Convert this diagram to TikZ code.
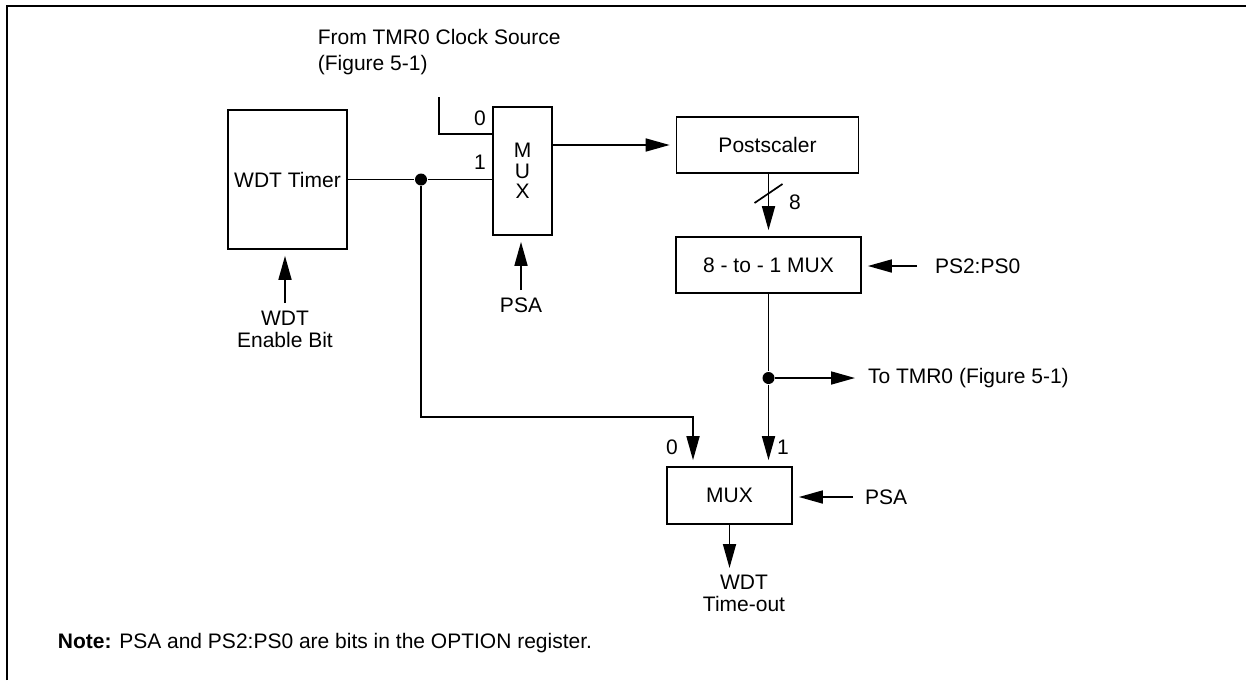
\documentclass[tikz,border=0pt]{standalone}
\usepackage{fontspec}
\setmainfont{Liberation Sans}
\usetikzlibrary{arrows.meta, positioning}

\begin{document}
\begin{tikzpicture}[x=0.5pt, y=-0.5pt, >={Triangle[length=12pt,width=6.5pt]}, line width=0.85pt,
    font=\fontsize{10.5}{11}\selectfont,
    block/.style={draw, inner sep=0pt, align=center},
    sig/.style={inner sep=0pt, outer sep=4pt},
    arr/.style={->, shorten >=3pt},
    dot/.style={circle, fill, inner sep=0pt, minimum size=6pt}]
      \useasboundingbox (0,0) rectangle (1246,680);
      \draw[line width=1.3pt] (7,680) |- (1246,6);

      % blocks
      \node[block, minimum width=59.5pt, minimum height=69.5pt] (wdt) at (287.5,179.5) {WDT Timer};
      \node[block, minimum width=29.5pt, minimum height=64pt, font=\fontsize{10.5}{10.3}\selectfont] (mux1) at (522.5,171) {M\\U\\X};
      \node[block, minimum width=91pt, minimum height=28pt] (post) at (767.5,145) {Postscaler};
      \node[block, minimum width=92.5pt, minimum height=28pt] (mux8) at (768.5,265) {8 - to - 1 MUX};
      \node[block, minimum width=62.5pt, minimum height=28.5pt] (mux2) at (729.5,495.5) {MUX};

      % signal names
      \node[inner sep=0pt, anchor=west, align=left, font=\fontsize{10.5}{13}\selectfont] (src) at (317,52) {From TMR0 Clock Source\\(Figure 5-1)};
      \node[sig, anchor=north, align=center] (en) at (285,303) {WDT\\Enable Bit};
      \node[sig, anchor=north] (psa1) at (521,290) {PSA};
      \node[sig, anchor=west, outer sep=9pt] (ps) at (917,266) {PS2:PS0};
      \node[sig, anchor=west, outer sep=3.5pt] (tmr) at (861,378) {To TMR0 (Figure 5-1)};
      \node[sig, anchor=west, outer sep=6pt] (psa2) at (853,497) {PSA};
      \node[sig, anchor=north, outer sep=3.5pt, align=center] (tout) at (744,568) {WDT\\Time-out};
      \node (sel0) at (480,118) {0};
      \node (sel1) at (480,162) {1};
      \node (sel0b) at (672,447) {0};
      \node (sel1b) at (783,447) {1};
      \node (bw) at (795,202) {8};
      \node[inner sep=0pt, anchor=west] (note) at (57,643) {\textbf{Note:} PSA and PS2:PS0 are bits in the OPTION register.};

      % junctions
      \node[dot] (j1) at (421,179.5) {};
      \node[dot] (j2) at (768.5,378) {};
      \coordinate (clk) at (439,97);
      \coordinate (bend) at (693,417);
      \coordinate (bus) at (768.5,193.5);

      \draw (wdt.east) -- (j1) -- (j1 -| mux1.west);
      \draw (clk) |- ([yshift=18.5pt]mux1.west);
      \draw[arr] (mux1.east |- post.west) -- (post.west);
      \draw[arr] (psa1.north) -- (psa1.north |- mux1.south);
      \draw[arr] (en.north) -- (en.north |- wdt.south);
      \draw[arr] (post.south -| mux8.north) -- (mux8.north);
      \draw ([shift={(-14,9.5)}]bus) -- ([shift={(14,-9.5)}]bus);
      \draw[arr] (ps.west) -- (ps.west -| mux8.east);
      \draw (mux8.south) -- (j2);
      \draw[arr] (j2) -- (tmr.west);
      \draw[arr] (j2) -- (j2 |- mux2.north);
      \draw[arr] (j1) |- (bend) -- (bend |- mux2.north);
      \draw[arr] (psa2.west) -- (psa2.west -| mux2.east);
      \draw[->] (mux2.south) -- (mux2.south |- tout.north);
    \end{tikzpicture}
\end{document}
